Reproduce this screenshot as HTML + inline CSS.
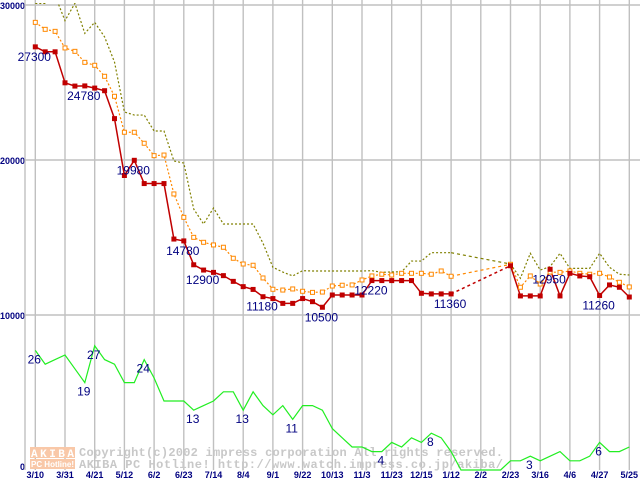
<!DOCTYPE html>
<html><head><meta charset="utf-8"><style>
html,body{margin:0;padding:0;background:#fff;width:640px;height:480px;overflow:hidden}
svg{display:block}
</style></head><body>
<svg id="chart" width="640" height="480" viewBox="0 0 640 480" xmlns="http://www.w3.org/2000/svg">
<defs><clipPath id="plotclip"><rect x="25" y="3" width="615" height="470"/></clipPath></defs>
<g id="grid"></g>
<g id="watermark">
  <rect x="30" y="447" width="45" height="11" fill="#f9c8a8"/>
  <rect x="30" y="459" width="45" height="10" fill="#f9c8a8"/>
  <text x="31" y="457" font-family="Liberation Mono, monospace" font-size="11" font-weight="bold" fill="#fff" textLength="43">AKIBA</text>
  <text x="31" y="467" font-family="Liberation Sans, sans-serif" font-size="8" font-weight="bold" fill="#fff" textLength="43">PC Hotline!</text>
  <text x="79" y="456" font-family="Liberation Mono, monospace" font-size="12" font-weight="bold" fill="#c8c8c8" textLength="424">Copyright(c)2002 impress corporation All rights reserved.</text>
  <text x="79" y="468" font-family="Liberation Mono, monospace" font-size="12" font-weight="bold" fill="#c8c8c8" textLength="424">AKIBA PC Hotline!  http://www.watch.impress.co.jp/akiba/</text>
</g>
<g id="series" clip-path="url(#plotclip)"></g>
<g id="labels"></g>
</svg>
<script>
const xLabels=["3/10","3/31","4/21","5/12","6/2","6/23","7/14","8/4","9/1","9/22","10/13","11/3","11/23","12/15","1/12","2/2","2/23","3/16","4/6","4/27","5/25"];
const yTicks=[0,10000,20000,30000];
const minPrice=[27300,26980,26980,24980,24770,24780,24640,24470,22670,19000,19980,18480,18480,18480,14900,14780,13240,12900,12750,12540,12170,11830,11650,11180,11060,10750,10750,11060,10860,10500,11290,11290,11290,11290,12220,12220,12220,12220,12220,11400,11360,11360,11360,null,null,null,null,null,13180,11230,11230,11230,12950,11230,12690,12520,12470,11260,11940,11790,11160];
const avgPrice=[28880,28430,28300,27230,27010,26300,26110,25400,24110,21790,21790,21080,20280,20320,17810,16300,15010,14690,14520,14370,13660,13290,13210,12390,11660,11610,11680,11530,11460,11480,11870,11920,11940,12260,12520,12630,12580,12690,12690,12690,12630,12840,12500,null,null,null,null,null,13270,11790,12520,12000,12770,12750,12840,12690,12630,12690,12450,12110,11810];
const maxPrice=[30100,30100,30600,28990,30110,28170,28880,27940,26320,23100,22900,22900,21870,21870,19940,19800,16840,15870,16900,15870,15870,15870,15870,14630,13080,12770,12520,12860,12840,12840,12840,12840,12840,12840,12860,12750,12780,12780,13480,13480,14020,14020,14020,null,null,null,null,null,13290,12370,13980,12900,13120,13980,13010,13010,13010,13980,13080,12630,12580];
const shopCount=[26,23,24,25,22,19,27,24,23,19,19,24,20,15,15,15,13,14,15,17,17,13,17,14,12,14,11,14,14,13,9,7,5,5,4,4,6,5,7,6,8,7,4,0,0,0,0,0,2,2,3,2,3,4,2,2,3,6,4,4,5];
const priceLabelIdx=[0,5,10,15,17,23,29,34,42,52,57];
const priceLabelText=["27300","24780","19980","14780","12900","11180","10500","12220","11360","12950","11260"];
const countLabelIdx=[0,5,6,11,16,21,26,35,40,50,57];
const countLabelText=["26","19","27","24","13","13","11","4","8","3","6"];

const NS="http://www.w3.org/2000/svg";
const X0=35.3, STEP=9.9;
const xPos=i=>X0+i*STEP;
const yPrice=v=>470-v*0.01550;
const yCount=c=>470-c*4.6;
function mk(tag,attrs,parent){const e=document.createElementNS(NS,tag);for(const k in attrs)e.setAttribute(k,attrs[k]);parent.appendChild(e);return e;}
const grid=document.getElementById('grid'), ser=document.getElementById('series'), lab=document.getElementById('labels');

// gridlines
for(const t of yTicks){
  const y=yPrice(t);
  if(t>0){const l=mk('line',{x1:25,x2:640,y1:y,y2:y,stroke:'#c0c0c0','stroke-width':1.4},grid);
  
  }
  const tx=mk('text',{x:t===0?20:0,y:t===0?y:y+4,'font-family':'Liberation Sans, sans-serif','font-size':t===0?9:9,'font-weight':'bold',fill:'#000080'},grid);
  tx.textContent=String(t);
  
  
}
const ax=mk('line',{x1:25,x2:25,y1:0,y2:470,stroke:'#c0c0c0','stroke-width':1.4},grid);


xLabels.forEach((s,k)=>{
  const x=xPos(k*3);
  const l=mk('line',{x1:x,x2:x,y1:0,y2:470,stroke:'#c0c0c0','stroke-width':1.4},grid);
  
  
  const t=mk('text',{x:x,y:478,'text-anchor':'middle','font-family':'Liberation Sans, sans-serif','font-size':9,'font-weight':'bold',fill:'#000080'},grid);
  t.textContent=s;
  
  
});

function drawSeries(arr,yf,color,dash,name,width){
  let seg=[];const segs=[];
  arr.forEach((v,i)=>{if(v===null){if(seg.length)segs.push(seg);seg=[];}else seg.push([xPos(i),yf(v)]);});
  if(seg.length)segs.push(seg);
  segs.forEach(s=>{
    const p=mk('polyline',{points:s.map(q=>q.join(',')).join(' '),fill:'none',stroke:color,'stroke-width':width,'stroke-dasharray':dash||'none'},ser);
    
    
  });
  for(let k=0;k+1<segs.length;k++){
    const a=segs[k][segs[k].length-1],b=segs[k+1][0];
    const g=mk('line',{x1:a[0],y1:a[1],x2:b[0],y2:b[1],stroke:color,'stroke-width':width,'stroke-dasharray':'3,3'},ser);
    
    
  }
}
drawSeries(shopCount,yCount,'#22ee22',null,'shop-count',1.2);
drawSeries(maxPrice,yPrice,'#808000','2,2','max-price',1.2);
drawSeries(avgPrice,yPrice,'#ff8800','2,2','avg-price',1.2);
drawSeries(minPrice,yPrice,'#c00000',null,'min-price',1.5);
avgPrice.forEach((v,i)=>{if(v===null)return;
  const r=mk('rect',{x:xPos(i)-2,y:yPrice(v)-2,width:4,height:4,fill:'#fff',stroke:'#ff8800','stroke-width':1},ser);
  
  
});
minPrice.forEach((v,i)=>{if(v===null)return;
  const r=mk('rect',{x:xPos(i)-2.5,y:yPrice(v)-2.5,width:5,height:5,fill:'#c00000'},ser);
  
  
});
priceLabelIdx.forEach((i,k)=>{
  const t=mk('text',{x:xPos(i)-1,y:yPrice(minPrice[i])+14,'text-anchor':'middle','font-family':'Liberation Sans, sans-serif','font-size':12,fill:'#000080'},lab);
  t.textContent=priceLabelText[k];
  
  
});
countLabelIdx.forEach((i,k)=>{
  const t=mk('text',{x:xPos(i)-1,y:yCount(shopCount[i])+13,'text-anchor':'middle','font-family':'Liberation Sans, sans-serif','font-size':12,fill:'#000080'},lab);
  t.textContent=countLabelText[k];
  
  
});
</script>
</body></html>
